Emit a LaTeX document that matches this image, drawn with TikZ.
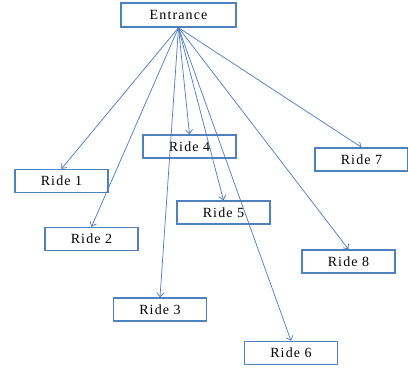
\documentclass[tikz,border=0pt]{standalone}
\usepackage{fontspec}
\setmainfont{Liberation Serif}[LetterSpace=8]
\usetikzlibrary{arrows.meta}
\definecolor{boxblue}{RGB}{79,129,189}
\definecolor{lineblue}{RGB}{74,120,196}
\tikzset{
  ride/.style={rectangle, draw=boxblue, line width=1.4pt, minimum width=93pt,
               minimum height=23pt, inner sep=0pt, font=\fontsize{14}{16}\selectfont},
  arc/.style={-{Straight Barb[length=4pt,width=7pt]}, draw=lineblue, line width=0.7pt}
}
\begin{document}
\begin{tikzpicture}[x=1pt,y=-1pt]
  \useasboundingbox (0,0) rectangle (408,370);
  \node[ride, minimum width=115pt, minimum height=24pt] (ent) at (178.5,15) {Entrance};
  \foreach \x/\y [count=\i] in {61.5/181, 91.5/239, 160/309.5, 189.5/146.5,
                               223.5/212.5, 291/353, 361.5/159.5, 348.5/261.5}
    \node[ride] (r\i) at (\x,\y) {Ride \i};
  \foreach \i in {1,...,8}
    \draw[arc] (ent.south) -- (r\i.north);
\end{tikzpicture}
\end{document}
